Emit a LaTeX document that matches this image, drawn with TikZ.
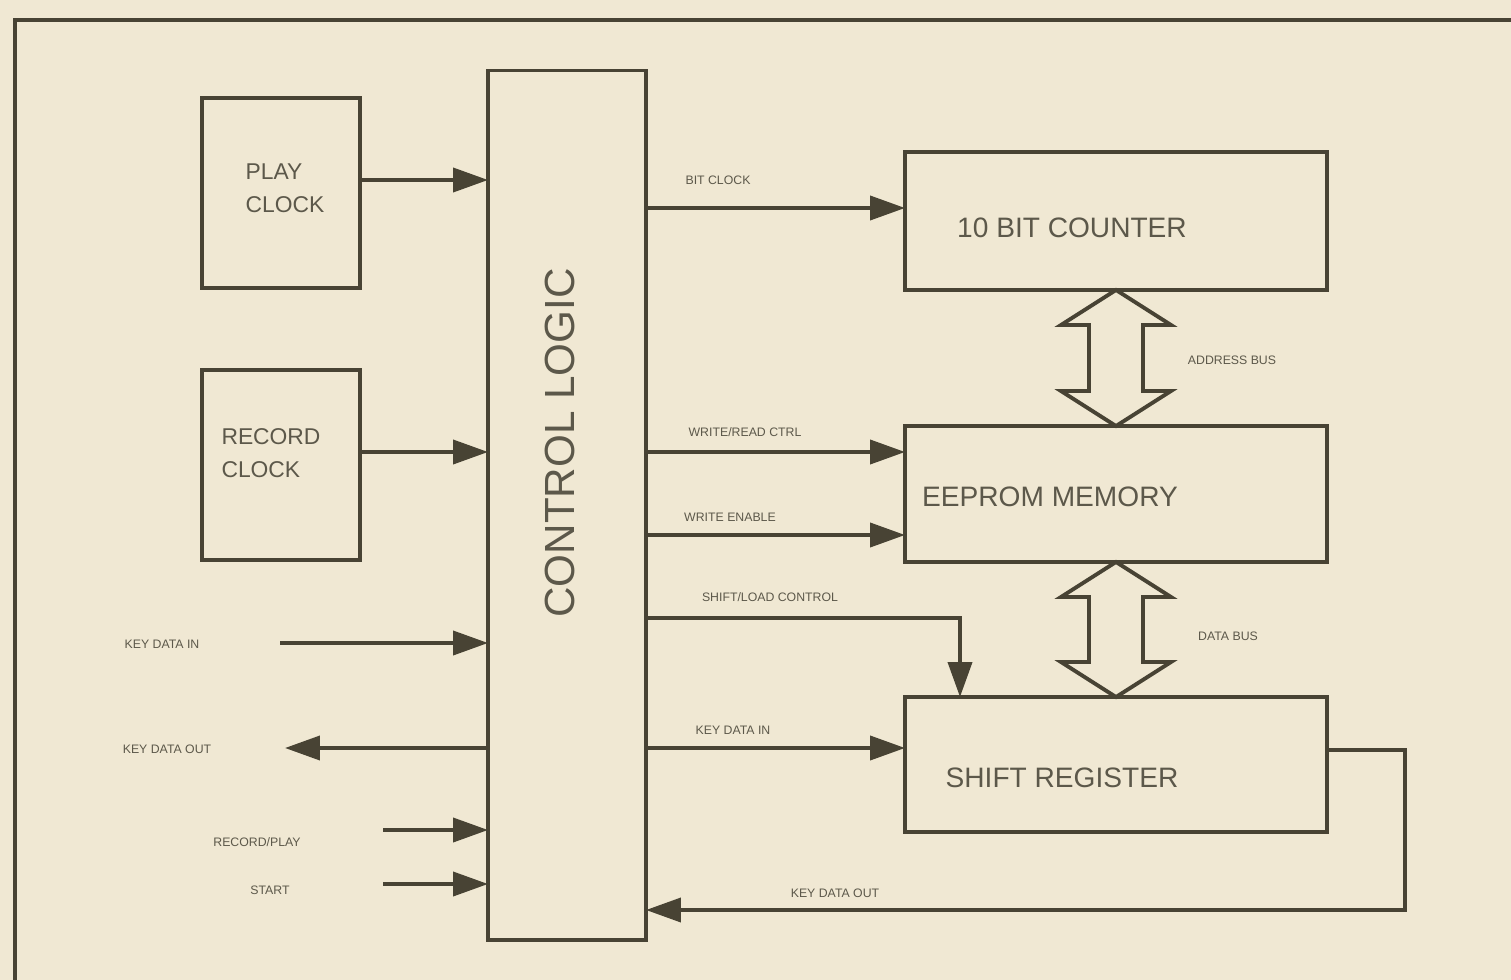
\documentclass[tikz,border=0pt]{standalone}
\usepackage{fontspec}
\setmainfont{Liberation Sans}
\usepackage{tikz}
\usetikzlibrary{arrows.meta,calc}
\definecolor{paper}{RGB}{240,232,211}
\definecolor{ink}{RGB}{72,67,52}
\definecolor{print}{RGB}{92,88,74}

\begin{document}
\begin{tikzpicture}[x=0.02cm,y=-0.02cm,
    every node/.style={text=print},
    block/.style={draw=ink, line width=1.8pt, inner sep=0pt, outer sep=0pt},
    sig/.style={draw=ink, line width=2.2pt, -{Triangle[length=0.7cm,width=0.48cm]}},
    tag/.style={font=\fontsize{7}{8}\selectfont, inner sep=1pt},
    big/.style={font=\fontsize{16}{19}\selectfont},
    bus/.style={draw=ink, line width=2.2pt, fill=paper, line join=miter}]
  \useasboundingbox (0,0) rectangle (1511,980);
  \clip (0,0) rectangle (1511,980);
  \fill[paper] (0,0) rectangle (1511,980);
  \draw[ink, line width=2.2pt] (15,1000) -- (15,20) -- (1530,20);

  \node[block, minimum width=3.16cm, minimum height=3.8cm] (play) at (281,193) {};
  \node[block, minimum width=3.16cm, minimum height=3.8cm] (record) at (281,465) {};
  \node[block, minimum width=3.16cm, minimum height=17.4cm] (ctrl) at (567,505) {};
  \node[block, minimum width=8.44cm, minimum height=2.76cm] (counter) at (1116,221) {};
  \node[block, minimum width=8.44cm, minimum height=2.72cm] (eeprom) at (1116,494) {};
  \node[block, minimum width=8.44cm, minimum height=2.7cm] (shift) at (1116,764.5) {};

  \node[align=left, font=\fontsize{13}{19}\selectfont] (playtxt) at (285,188) {PLAY\\CLOCK};
  \node[align=left, font=\fontsize{13}{19}\selectfont] (rectxt) at (271,453) {RECORD\\CLOCK};
  \node[rotate=90, font=\fontsize{24}{28}\selectfont] (ctrltxt) at (560,443) {CONTROL LOGIC};
  \node[big] (countertxt) at (1072,228) {10 BIT COUNTER};
  \node[big] (eepromtxt) at (1050,497) {EEPROM MEMORY};
  \node[big] (shifttxt) at (1062,778) {SHIFT REGISTER};

  \draw[sig] (play.east |- 0,180) -- (ctrl.west |- 0,180);
  \draw[sig] (record.east |- 0,452) -- (ctrl.west |- 0,452);

  \coordinate (kin) at (280,643);
  \coordinate (kout) at (285,748);
  \coordinate (rp) at (383,830);
  \coordinate (st) at (383,884);
  \draw[sig] (kin) -- (ctrl.west |- kin);
  \draw[sig] (ctrl.west |- kout) -- (kout);
  \draw[sig] (rp) -- (ctrl.west |- rp);
  \draw[sig] (st) -- (ctrl.west |- st);
  \node[tag] (kinlbl) at (162,644) {KEY DATA IN};
  \node[tag] (koutlbl) at (167,749) {KEY DATA OUT};
  \node[tag] (rplbl) at (257,842) {RECORD/PLAY};
  \node[tag] (stlbl) at (270,890) {START};

  \draw[sig] (ctrl.east |- 0,208) -- (counter.west |- 0,208);
  \draw[sig] (ctrl.east |- 0,452) -- (eeprom.west |- 0,452);
  \draw[sig] (ctrl.east |- 0,535) -- (eeprom.west |- 0,535);
  \draw[sig] (ctrl.east |- 0,618) -| (shift.north -| 960,0);
  \draw[sig] (ctrl.east |- 0,748) -- (shift.west |- 0,748);
  \coordinate (loop) at (1405,910);
  \draw[sig] (shift.east |- 0,750) -| (loop) -- (ctrl.east |- loop);
  \node[tag] (bclbl) at (718,180) {BIT CLOCK};
  \node[tag] (wrlbl) at (745,432) {WRITE/READ CTRL};
  \node[tag] (welbl) at (730,517) {WRITE ENABLE};
  \node[tag] (sllbl) at (770,597) {SHIFT/LOAD CONTROL};
  \node[tag] (kinrlbl) at (733,730) {KEY DATA IN};
  \node[tag] (koutrlbl) at (835,893) {KEY DATA OUT};

  \draw[bus] (counter.south) -- ++(55,35) -- ++(-28,0) -- ($(eeprom.north)+(27,-35)$) -- ++(28,0)
    -- (eeprom.north) -- ++(-55,-35) -- ++(28,0) -- ($(counter.south)+(-27,35)$) -- ++(-28,0) -- cycle;
  \draw[bus] (eeprom.south) -- ++(55,35) -- ++(-28,0) -- ($(shift.north)+(27,-35)$) -- ++(28,0)
    -- (shift.north) -- ++(-55,-35) -- ++(28,0) -- ($(eeprom.south)+(-27,35)$) -- ++(-28,0) -- cycle;
  \node[tag] (abuslbl) at (1232,360) {ADDRESS BUS};
  \node[tag] (dbuslbl) at (1228,636) {DATA BUS};
\end{tikzpicture}
\end{document}
